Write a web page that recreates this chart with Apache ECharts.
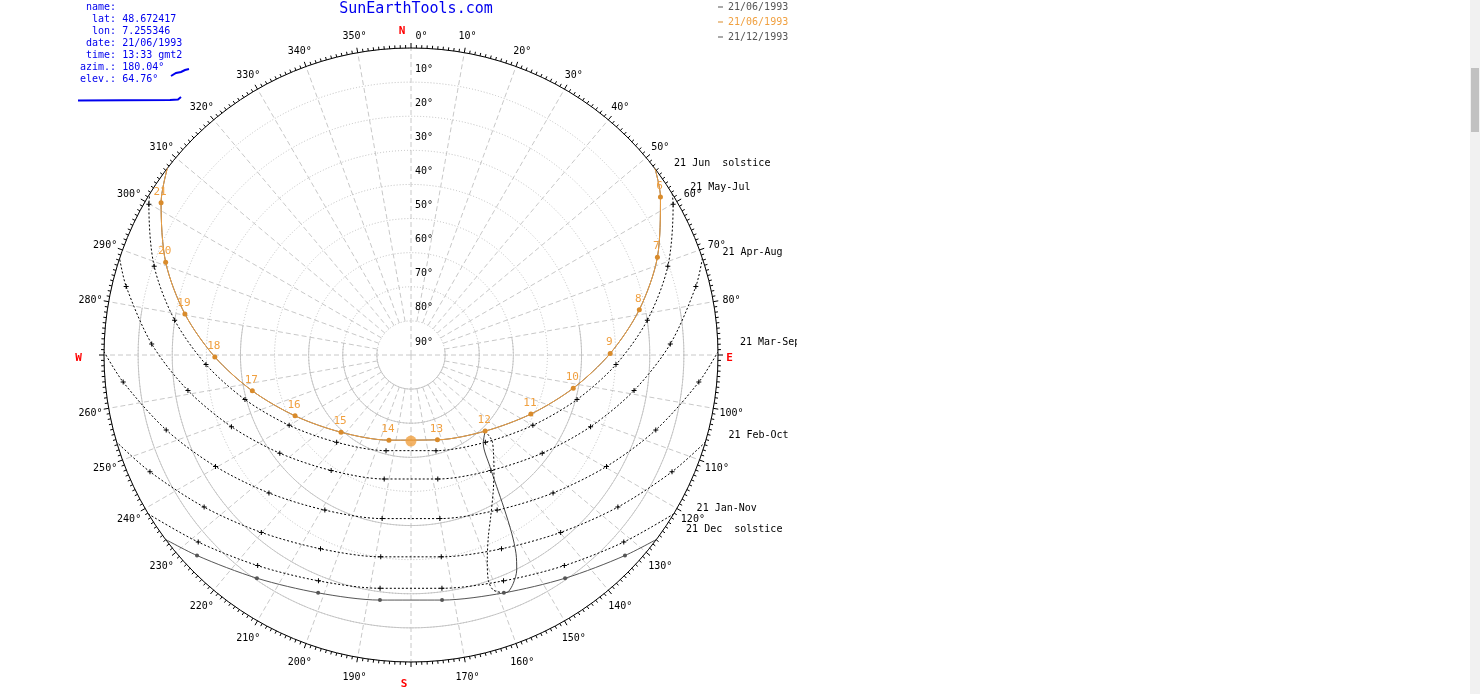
<!DOCTYPE html>
<html><head><meta charset="utf-8">
<script src="https://cdn.jsdelivr.net/npm/echarts/dist/echarts.min.js"></script>
<style>
html,body{margin:0;padding:0;background:#fff;overflow:hidden;width:1480px;height:694px}
#c{position:absolute;left:0;top:0;width:797px;height:694px}
#sb{position:absolute;left:1470px;top:0;width:10px;height:694px;background:#f1f1f1}
#sb div{position:absolute;left:1px;top:68px;width:8px;height:64px;background:#c1c1c1}
</style></head>
<body><div id="c"></div><div id="sb"><div></div></div>
<script>
// ---------------- DATA (elevation °, azimuth °) ----------------
const elevationTicks = [10,20,30,40,50,60,70,80,90];
const solidRingElev = [80,70,60,40,20,10];
const azimuthLabelValues = [0,10,20,30,40,50,60,70,80,100,110,120,130,140,150,160,170,190,200,210,220,230,240,250,260,280,290,300,310,320,330,340,350];
const cardinalNames = ['N','E','S','W'];
const cardinalAzim  = [0,90,180,270];
const infoLines = [' name:','  lat: 48.672417','  lon: 7.255346',' date: 21/06/1993',' time: 13:33 gmt2','azim.: 180.04°','elev.: 64.76°'];
const titleText = 'SunEarthTools.com';
const legendLabels = ['21/06/1993','21/06/1993','21/12/1993'];

// 21/06/1993 hourly sun positions
const juneHours = [6,7,8,9,10,11,12,13,14,15,16,17,18,19,20,21];
const juneElev  = [3.45,12.27,21.76,31.60,41.45,50.82,58.85,63.95,64.21,59.45,51.61,42.31,32.49,22.63,13.10,4.21];
const juneAzim  = [57.67,68.34,78.77,89.56,101.56,116.21,135.75,162.70,194.51,222.16,242.30,257.26,269.43,280.28,290.72,301.35];
const juneRise  = [-0.3,52.2];
const juneSet   = [-1.4,309.5];
const sunNow    = [64.76,180.04];

// other dates (first/last = horizon crossing)
const mayElev = [0,1.34,10.35,19.96,29.84,39.61,48.76,56.38,61.02,61.02,56.38,48.76,39.61,29.84,19.96,10.35,1.34,0];
const mayAzim = [58.31,60.08,70.95,81.61,92.67,105.01,119.99,139.58,165.37,194.63,220.42,240.01,254.99,267.33,278.39,289.05,299.92,301.69];
const aprElev = [0,4.12,13.91,23.79,33.32,41.96,48.85,52.81,52.81,48.85,41.96,33.32,23.79,13.91,4.12,0];
const aprAzim = [71.65,76.48,87.55,99.04,111.76,126.80,145.33,167.81,192.19,214.67,233.20,248.24,260.96,272.45,283.52,288.35];
const marElev = [0,5.25,14.95,24.03,31.95,37.98,41.30,41.30,37.98,31.95,24.03,14.95,5.25,0];
const marAzim = [89.39,95.38,107.02,119.70,134.16,150.95,169.99,190.01,209.05,225.84,240.30,252.98,264.62,270.61];
const febElev = [0,6.17,14.73,21.96,27.30,30.17,30.17,27.30,21.96,14.73,6.17,0];
const febAzim = [106.48,114.10,126.32,139.85,154.97,171.47,188.53,205.03,220.15,233.68,245.90,253.52];
const janElev = [0,6.95,13.62,18.45,21.01,21.01,18.45,13.62,6.95,0];
const janAzim = [121.19,131.32,143.94,157.72,172.45,187.55,202.28,216.06,228.68,238.81];
const decElev = [-1.6,4.03,10.49,15.14,17.58,17.58,15.14,10.49,4.03,-1.6];
const decAzim = [124.8,133.14,145.39,158.67,172.78,187.22,201.33,214.61,226.86,235.2];

// 12:00 analemma (solid: Dec->Jun, dotted: Jun->Dec)
const anaSolidElev = [58.85,56.55,49.9,43.94,37.52,29.96,24.22,19.76,16.65,14.98,15.14];
const anaSolidAzim = [135.75,140.69,144.73,146.94,148.71,150.54,152.1,153.82,155.87,157.65,158.67];
const anaDotElev   = [58.85,55.64,53.15,48.43,43.65,37.14,32.1,25.88,20.26,17.0,15.14];
const anaDotAzim   = [135.75,136.48,139.1,144.18,148.63,153.76,156.95,159.59,161.04,160.7,158.67];

// date labels at sunrise points
const dateLabels = ['21 Jun  solstice','21 May-Jul','21 Apr-Aug','21 Mar-Sep','21 Feb-Oct','21 Jan-Nov','21 Dec  solstice'];
const dateAnchorElev = [0,0,0,0,0,0,0];
const dateAnchorAzim = [52.97,58.31,71.65,89.39,106.48,121.19,127.03];

// ---------------- STYLE / LAYOUT ----------------
const FONT = '"DejaVu Sans Mono","Liberation Mono",monospace';
const ORANGE = '#F0A040', ORANGE_DOT = '#D98B2B', DARK = '#555555', BLUE = '#0000ee', GRID = '#c8c8c8';
const labelOffsets = [[18,-7],[18,-6],[20,-6],[22,-9],[23,-7],[23,-6],[30,-10]];
const cardinalOffsets = [[-9,-17],[11.5,3],[-7,22],[-25.5,3]];
const AZ_LABEL_RING = -5.42;     // label ring just outside the horizon circle
const SOLID_ARC_FROM = 80, SOLID_ARC_TO = 280;
const PLUS = 'path://M2,0H3V2H5V3H3V5H2V3H0V2H2Z';

const azGrid = []; for (let a = 0; a < 360; a += 10) azGrid.push(a);

const base = {type:'line', coordinateSystem:'polar', clip:false, silent:true, animation:false};

const spokes = azGrid.map(a => Object.assign({}, base, {
  data: [[a % 90 === 0 ? 90 : 80, a], [0, a]],
  symbol:'none', z:1,
  lineStyle:{color:GRID, width:1, type:[5,3]}
}));

const solidRings = solidRingElev.map(e => {
  const pts = [];
  for (let a = SOLID_ARC_FROM; a <= SOLID_ARC_TO; a += 2) pts.push([e, a]);
  return Object.assign({}, base, {data:pts, symbol:'none', z:1, lineStyle:{color:GRID, width:1}});
});

function curve(el, az, endsNoSymbol) {
  return el.map((e,i) => {
    const it = {value:[e, az[i]]};
    if (endsNoSymbol && (i === 0 || i === el.length-1)) it.symbol = 'none';
    return it;
  });
}

const dotted = [[mayElev,mayAzim],[aprElev,aprAzim],[marElev,marAzim],[febElev,febAzim],[janElev,janAzim]].map(p => Object.assign({}, base, {
  data: curve(p[0], p[1], true), smooth:0.3, symbol:PLUS, symbolSize:5, z:3,
  lineStyle:{color:'#000', width:1, type:[2,2]}, itemStyle:{color:'#000'}
}));

const juneData = [{value:juneRise, symbol:'none', label:{show:false}}]
  .concat(juneHours.map((h,i) => ({value:[juneElev[i], juneAzim[i]], name:String(h)})))
  .concat([{value:juneSet, symbol:'none', label:{show:false}}]);

// text placed through the polar coordinate system
function textSeries(elev, azim, texts, offsets, style) {
  return {
    type:'custom', coordinateSystem:'polar', silent:true, animation:false, clip:false, z:7,
    data: elev.map((e,i) => [e, azim[i]]),
    renderItem: (params, api) => {
      const i = params.dataIndex;
      const p = api.coord([api.value(0), api.value(1)]);
      const o = offsets(i);
      return {type:'text', x:p[0] + o[0], y:p[1] + o[1],
        style:Object.assign({text:texts[i], textAlign:style.align, textVerticalAlign:'middle', verticalAlign:'middle'}, style)};
    }
  };
}

const series = spokes.concat(solidRings).concat(dotted).concat([
  Object.assign({}, base, {name:'jun0', data: juneData.map(d => ({value:d.value, symbol:'none'})), smooth:0.3,
    symbol:'none', z:4, lineStyle:{color:DARK, width:1}, itemStyle:{color:DARK}}),
  Object.assign({}, base, {name:'dec', data: curve(decElev, decAzim, true), smooth:0.3,
    symbol:'circle', symbolSize:4, z:4, lineStyle:{color:DARK, width:1}, itemStyle:{color:DARK}}),
  Object.assign({}, base, {data: curve(anaSolidElev, anaSolidAzim, false), smooth:0.3, symbol:'none', z:4,
    lineStyle:{color:'#444', width:1}}),
  Object.assign({}, base, {data: curve(anaDotElev, anaDotAzim, false), smooth:0.3, symbol:'none', z:4,
    lineStyle:{color:'#000', width:1, type:[2,2]}}),
  Object.assign({}, base, {name:'jun', data: juneData, smooth:0.3, symbol:'circle', symbolSize:5, z:5,
    lineStyle:{color:ORANGE, width:1}, itemStyle:{color:ORANGE_DOT},
    label:{show:true, position:'top', distance:3, offset:[-1,0], color:ORANGE, fontFamily:FONT, fontSize:11,
      formatter: p => p.name}}),
  {type:'scatter', coordinateSystem:'polar', silent:true, animation:false, z:6,
    data:[sunNow], symbolSize:11, itemStyle:{color:ORANGE}},
  textSeries(dateAnchorElev, dateAnchorAzim, dateLabels, i => labelOffsets[i],
    {align:'left', font:'10px ' + FONT, fill:'#000'}),
  textSeries(azimuthLabelValues.map(() => AZ_LABEL_RING), azimuthLabelValues, azimuthLabelValues.map(a => a + '°'),
    i => azimuthLabelValues[i] === 0 ? [10.5,6.5] : [0,2],
    {align:'center', font:'10px ' + FONT, fill:'#000'}),
  textSeries(cardinalAzim.map(() => 0), cardinalAzim, cardinalNames, i => cardinalOffsets[i],
    {align:'center', font:'bold 11px ' + FONT, fill:'#ff0000'})
]);

const option = {
  animation:false,
  polar:{center:[411,355], radius:307},
  angleAxis:{
    type:'value', min:0, max:360, interval:10, startAngle:90, clockwise:true, z:2,
    axisLine:{lineStyle:{color:'#000', width:1}},
    axisTick:{show:true, length:5, lineStyle:{color:'#000'}},
    minorTick:{show:true, splitNumber:10, length:3, lineStyle:{color:'#000'}},
    splitLine:{show:false},
    axisLabel:{show:false}
  },
  radiusAxis:{
    type:'value', min:0, max:90, interval:10, inverse:true, z:2,
    axisLine:{show:false}, axisTick:{show:false},
    axisLabel:{fontFamily:FONT, fontSize:10, color:'#000', margin:-4, align:'left', verticalAlign:'bottom',
      padding:[0,0,8,0], formatter: v => v === 0 ? '' : v + '°'},
    splitLine:{show:true, lineStyle:{color:'#bdbdbd', width:1, type:[1,2]}}
  },
  legend:{
    orient:'vertical', left:718, top:1, padding:0, itemGap:3, itemWidth:5, itemHeight:1, icon:'rect',
    textStyle:{fontFamily:FONT, fontSize:10, lineHeight:12},
    data:[{name:'jun0', textStyle:{color:DARK}}, {name:'jun', textStyle:{color:ORANGE}}, {name:'dec', textStyle:{color:DARK}}],
    formatter: n => legendLabels[['jun0','jun','dec'].indexOf(n)]
  },
  graphic:[
    {type:'text', x:80, y:1, silent:true,
      style:{text: infoLines.join('\n'), font:'10px ' + FONT, lineHeight:12, fill:BLUE}},
    {type:'text', x:416, y:9, silent:true,
      style:{text:titleText, font:'15px ' + FONT, fill:BLUE, align:'center', verticalAlign:'middle', textAlign:'center', textVerticalAlign:'middle'}},
    {type:'polyline', silent:true, shape:{points:[[171,76],[176,73],[181,72],[185,70],[189,69]]}, style:{stroke:BLUE, lineWidth:2, fill:null}},
    {type:'polyline', silent:true, shape:{points:[[78,100.5],[170,100],[178,99.5],[181,97]]}, style:{stroke:BLUE, lineWidth:2, fill:null}}
  ],
  series: series
};

const chart = echarts.init(document.getElementById('c'), null, {renderer:'canvas'});
chart.setOption(option);
</script>
</body></html>
